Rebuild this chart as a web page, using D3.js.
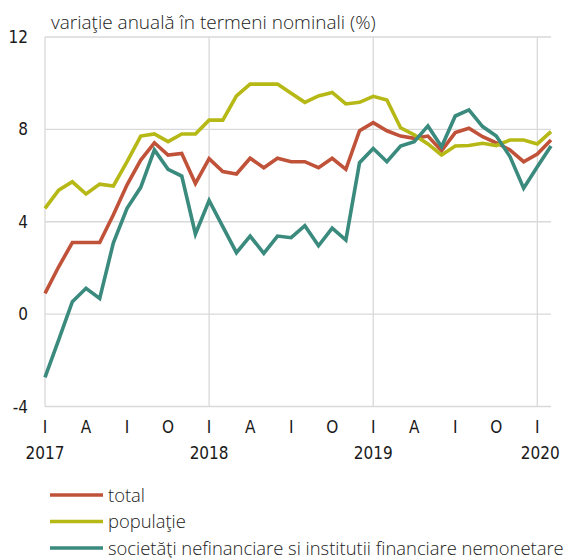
<!DOCTYPE html>
<html>
<head>
<meta charset="utf-8">
<script src="https://cdn.jsdelivr.net/npm/d3@7"></script>
<style>
  body { margin: 0; background: #fff; }
  svg { display: block; }
  .tick-label { font-family: "Liberation Sans Narrow", "DejaVu Sans Condensed", sans-serif; font-size: 17px; fill: #1a1a1a; }
  .txt { font-family: "Open Sans", sans-serif; font-weight: 300; fill: #222; }
</style>
</head>
<body>
<svg id="chart" width="579" height="558"></svg>
<script>
// monthly data, Jan 2017 .. Feb 2020
const total = [0.9, 2.05, 3.1, 3.1, 3.1, 4.3, 5.6, 6.67, 7.42, 6.89, 6.96, 5.66,
  6.73, 6.17, 6.07, 6.75, 6.34, 6.75, 6.6, 6.6, 6.34, 6.75, 6.27, 7.94,
  8.29, 7.94, 7.71, 7.61, 7.71, 7.08, 7.86, 8.05, 7.68, 7.42, 7.11, 6.6, 6.93, 7.54]
const populatie = [4.58, 5.37, 5.73, 5.2, 5.63, 5.55, 6.6, 7.71, 7.8, 7.47, 7.8, 7.8,
  8.4, 8.4, 9.45, 9.96, 9.96, 9.96, 9.56, 9.17, 9.45, 9.6, 9.1, 9.17,
  9.43, 9.27, 8.07, 7.76, 7.37, 6.89, 7.28, 7.3, 7.4, 7.3, 7.54, 7.54, 7.37, 7.9]
const societati = [-2.74, -1.12, 0.54, 1.12, 0.68, 3.09, 4.58, 5.49, 7.11, 6.27, 5.98, 3.47,
  4.92, 3.79, 2.66, 3.38, 2.63, 3.38, 3.31, 3.83, 2.96, 3.72, 3.21, 6.56,
  7.17, 6.6, 7.28, 7.47, 8.15, 7.25, 8.58, 8.84, 8.12, 7.71, 6.82, 5.45, 6.38, 7.28]

const yTicks = [-4, 0, 4, 8, 12]
const monthLabels = ['I', 'A', 'I', 'O']   // ianuarie, aprilie, iulie, octombrie
const yearLabels = ['2017', '2018', '2019', '2020']
const seriesNames = ['total', 'populaţie', 'societăţi nefinanciare si institutii financiare nemonetare']
const colors = ['#c0523a', '#b6b816', '#3a8a7e']

const svg = d3.select('#chart')
const m = {left: 45, right: 551, top: 37, bottom: 406.5}

const x = d3.scaleLinear().domain([0, 37]).range([m.left, m.right])
const y = d3.scaleLinear().domain([-4, 12]).range([m.bottom, m.top])

// grid
const grid = svg.append('g').attr('stroke', '#d9d9d9').attr('stroke-width', 1.3)
grid.selectAll('line.h').data(yTicks).enter().append('line')
  .attr('x1', m.left).attr('x2', m.right)
  .attr('y1', d => y(d)).attr('y2', d => y(d))
grid.selectAll('line.v').data(yearLabels).enter().append('line')
  .attr('x1', (d, i) => x(i * 12)).attr('x2', (d, i) => x(i * 12))
  .attr('y1', m.top).attr('y2', m.bottom)

// y labels
svg.selectAll('text.yl').data(yTicks).enter().append('text')
  .attr('class', 'tick-label')
  .attr('x', 28).attr('y', d => y(d) + 6)
  .attr('text-anchor', 'end')
  .text(d => d)

// x labels
const months = d3.range(0, 37, 3)
svg.selectAll('text.ml').data(months).enter().append('text')
  .attr('class', 'tick-label')
  .attr('x', d => x(d)).attr('y', 433)
  .attr('text-anchor', 'middle')
  .text(d => monthLabels[(d / 3) % 4])
svg.selectAll('text.yr').data(yearLabels).enter().append('text')
  .attr('class', 'tick-label')
  .attr('x', (d, i) => x(i * 12) + (i == 3 ? 3 : 0)).attr('y', 459)
  .attr('text-anchor', 'middle')
  .text(d => d)

// title
svg.append('text').attr('class', 'txt')
  .attr('x', 51).attr('y', 29)
  .style('font-size', '19px')
  .text('variaţie anuală în termeni nominali (%)')

// lines
const line = d3.line().x((d, i) => x(i)).y(d => y(d))
const allSeries = [total, populatie, societati]
svg.selectAll('path.series').data(allSeries).enter().append('path')
  .attr('d', line)
  .attr('fill', 'none')
  .attr('stroke', (d, i) => colors[i])
  .attr('stroke-width', 3.6)
  .attr('stroke-linejoin', 'miter')

// legend
const leg = svg.selectAll('g.leg').data(seriesNames).enter().append('g')
  .attr('transform', (d, i) => 'translate(50,' + (495 + i * 26.5) + ')')
leg.append('line').attr('x1', 0).attr('x2', 53)
  .attr('stroke', (d, i) => colors[i]).attr('stroke-width', 3.6)
leg.append('text').attr('class', 'txt')
  .attr('x', 58).attr('y', 6.5)
  .style('font-size', '18.4px')
  .text(d => d)
</script>
</body>
</html>
